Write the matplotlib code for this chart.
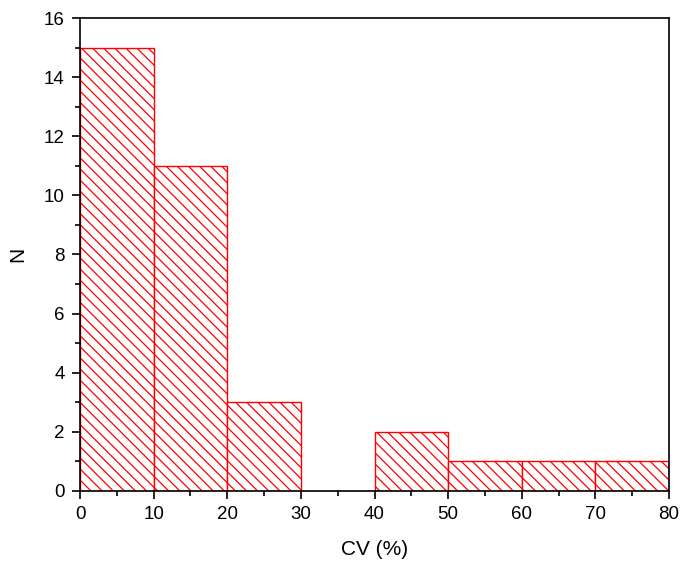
import matplotlib.pyplot as plt
from matplotlib.ticker import MultipleLocator

plt.rcParams['font.family'] = ['Liberation Sans', 'DejaVu Sans']
plt.rcParams['hatch.color'] = 'red'
plt.rcParams['hatch.linewidth'] = 0.9

# bordas das classes de CV (%) e contagem N
bordas = [0, 10, 20, 30, 40, 50, 60, 70]
contagens = [15, 11, 3, 0, 2, 1, 1, 1]
largura = 10

fig = plt.figure(figsize=(6.81, 5.63), dpi=100)
ax = fig.add_axes([0.1175, 0.128, 0.865, 0.84])

ax.bar(bordas, contagens, width=largura, align='edge', color='white',
       edgecolor='red', linewidth=1.0, hatch='\\\\\\')

ax.set_xlim(0, 80)
ax.set_ylim(0, 16)
ax.xaxis.set_major_locator(MultipleLocator(10))
ax.xaxis.set_minor_locator(MultipleLocator(5))
ax.yaxis.set_major_locator(MultipleLocator(2))
ax.yaxis.set_minor_locator(MultipleLocator(1))
ax.tick_params(which='both', direction='out', top=False, right=False, labelsize=13.5, width=1.2)
ax.tick_params(which='major', length=6, pad=5)
ax.tick_params(which='minor', length=3.5)
for s in ax.spines.values():
    s.set_linewidth(1.2)

ax.set_xlabel('CV (%)', fontsize=15, labelpad=12)
ax.set_ylabel('N', fontsize=15, labelpad=12)

fig.savefig('out.png', dpi=100)
